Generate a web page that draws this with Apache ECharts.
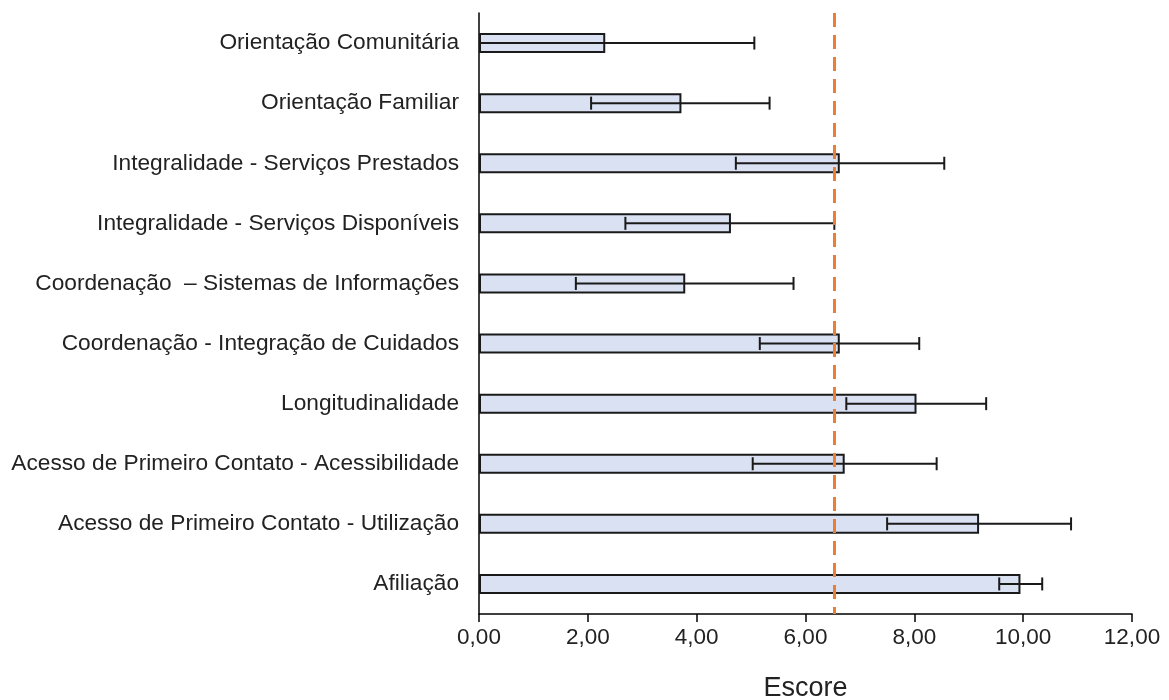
<!DOCTYPE html>
<html>
<head>
<meta charset="utf-8">
<script src="https://cdn.jsdelivr.net/npm/echarts@6/dist/echarts.min.js"></script>
<style>
html,body{margin:0;padding:0;background:#fff;}
#chart{width:1169px;height:700px;}
</style>
</head>
<body>
<div id="chart"></div>
<script>
// Categories, top to bottom
const categories = [
  'Orientação Comunitária',
  'Orientação Familiar',
  'Integralidade - Serviços Prestados',
  'Integralidade - Serviços Disponíveis',
  'Coordenação  – Sistemas de Informações',
  'Coordenação - Integração de Cuidados',
  'Longitudinalidade',
  'Acesso de Primeiro Contato - Acessibilidade',
  'Acesso de Primeiro Contato - Utilização',
  'Afiliação'
];
// Mean score per category
const means = [2.32, 3.72, 6.63, 4.63, 3.79, 6.63, 8.04, 6.72, 9.19, 9.95];
// Error bar lower and upper ends
const lowers = [-0.42, 2.06, 4.72, 2.69, 1.78, 5.16, 6.75, 5.03, 7.50, 9.56];
const uppers = [5.06, 5.34, 8.55, 6.53, 5.78, 8.09, 9.32, 8.41, 10.88, 10.35];
// Cut-off reference value
const cutoff = [6.53];
// X axis ticks
const xTicks = [0, 2, 4, 6, 8, 10, 12];

const errData = categories.map((c, i) => [i, lowers[i], uppers[i]]);
const fmt = v => v.toFixed(2).replace('.', ',');
const FONT = 'Liberation Sans, Arial, sans-serif';

const chart = echarts.init(document.getElementById('chart'), null, {renderer: 'canvas'});
chart.setOption({
  animation: false,
  backgroundColor: '#ffffff',
  grid: {left: 479, right: 37, top: 13, bottom: 86, containLabel: false, outerBoundsMode: 'none'},
  xAxis: {
    type: 'value',
    min: xTicks[0],
    max: xTicks[xTicks.length - 1],
    interval: 2,
    name: 'Escore',
    nameLocation: 'middle',
    nameGap: 61,
    nameTextStyle: {fontFamily: FONT, fontSize: 27, color: '#222'},
    axisLine: {show: true, lineStyle: {color: '#000', width: 1.5}},
    axisTick: {show: true, length: 8, lineStyle: {color: '#000', width: 1.5}},
    axisLabel: {formatter: fmt, fontFamily: FONT, fontSize: 22.5, color: '#222', margin: 12},
    splitLine: {show: false}
  },
  yAxis: {
    type: 'category',
    data: categories,
    inverse: true,
    axisLine: {show: true, lineStyle: {color: '#000', width: 1.5}},
    axisTick: {show: false},
    axisLabel: {fontFamily: FONT, fontSize: 22.7, color: '#222', margin: 20},
    splitLine: {show: false}
  },
  series: [
    {
      type: 'bar',
      data: means,
      barWidth: 20,
      itemStyle: {color: '#D9E1F2', borderColor: '#1a1a1a', borderWidth: 2},
      z: 2
    },
    {
      type: 'custom',
      data: errData,
      encode: {y: 0, x: [1, 2]},
      clip: true,
      z: 3,
      renderItem: function (params, api) {
        const cat = api.value(0);
        const lo = api.coord([api.value(1), cat]);
        const hi = api.coord([api.value(2), cat]);
        const half = 6.5;
        const style = {stroke: '#1a1a1a', lineWidth: 2, fill: null};
        const children = [
          {type: 'line', shape: {x1: lo[0], y1: lo[1], x2: hi[0], y2: hi[1]}, style: style},
          {type: 'line', shape: {x1: hi[0], y1: hi[1] - half, x2: hi[0], y2: hi[1] + half}, style: style}
        ];
        if (api.value(1) >= 0) {
          children.push({type: 'line', shape: {x1: lo[0], y1: lo[1] - half, x2: lo[0], y2: lo[1] + half}, style: style});
        }
        return {type: 'group', children: children};
      }
    },
    {
      type: 'line',
      data: [],
      z: 5,
      markLine: {
        silent: true,
        symbol: ['none', 'none'],
        label: {show: false},
        lineStyle: {color: '#ED7D31', width: 3, type: [14, 8]},
        data: [{xAxis: cutoff[0]}]
      }
    }
  ]
});
</script>
</body>
</html>
